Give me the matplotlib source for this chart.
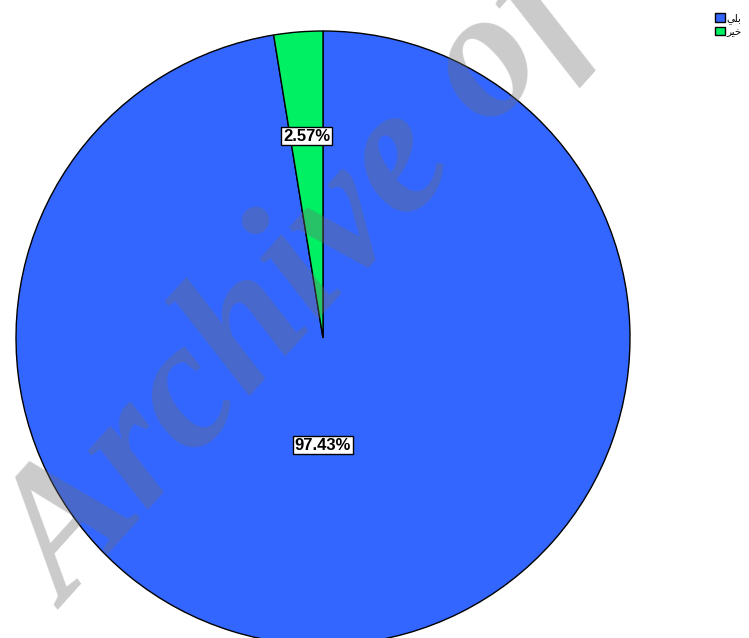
import matplotlib
matplotlib.use('Agg')
import matplotlib.pyplot as plt

labels = ['بلي', 'خير']
percents = [97.43, 2.57]
colors = ['#3366ff', '#00f064']

# matplotlib has no arabic shaping: use presentation forms in visual order
shaped = {'بلي': '\ufef2\ufee0\ufe91', 'خير': '\ufeae\ufef4\ufea7'}

fig = plt.figure(figsize=(7.49, 6.38), dpi=100)

# pie centre ~ (323, 338) px, radius ~ 307 px
r = 307
ax = fig.add_axes([(323 - r) / 749, (300 - r) / 638, 2 * r / 749, 2 * r / 638])
wedges, texts, autotexts = ax.pie(percents, colors=colors, startangle=90, counterclock=False,
                                  autopct='%1.2f%%', pctdistance=0.5,
                                  wedgeprops=dict(edgecolor='black', linewidth=1))
ax.set_xlim(-1, 1)
ax.set_ylim(-1, 1)
ax.set_aspect('auto')

# move the labels roughly where they sit in the original
for t, (fx, fy) in zip(autotexts, [(0.0, 0.7), (1.32, 1.32)]):
    x, y = t.get_position()
    t.set_position((x * fx, y * fy))
    t.set_fontsize(12)
    t.set_fontweight('bold')
    t.set_family('Liberation Sans')
    t.set_bbox(dict(facecolor='white', edgecolor='black', boxstyle='square,pad=0.1', linewidth=1))

leg = fig.legend(wedges, [shaped[l] for l in labels], loc='upper left', bbox_to_anchor=(710 / 749, 1 - 8 / 638),
                 frameon=False, handlelength=0.9, handleheight=0.9, handletextpad=0.2,
                 labelspacing=0.25, borderpad=0, prop={'family': 'DejaVu Sans', 'size': 7.5})

# watermark
fig.text(68 / 749, 1 - 610 / 638, 'Archive of SID', fontsize=132, fontweight='bold', style='italic',
         family='Liberation Serif', color='#6e6e6e', alpha=0.36, rotation=48,
         ha='left', va='baseline', rotation_mode='anchor')

fig.savefig('out.png', dpi=100)
